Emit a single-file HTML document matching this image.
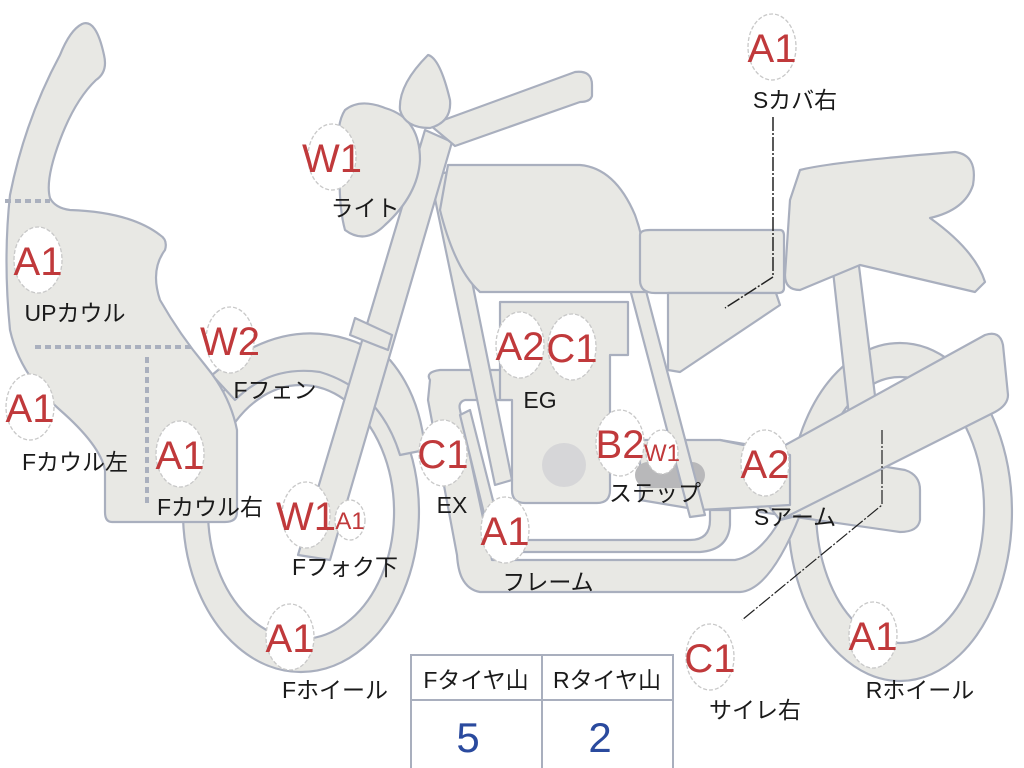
<!DOCTYPE html>
<html><head><meta charset="utf-8"><style>
html,body{margin:0;padding:0;background:#fff;}
svg{display:block;}
.s{fill:#e8e8e4;stroke:#a9afbe;stroke-width:2.2;stroke-linejoin:round;}
.c{fill:#fff;stroke:#c8c8c8;stroke-width:1.3;stroke-dasharray:4 2;}
.r{fill:#c0393b;font-family:"Liberation Sans",sans-serif;font-size:40px;}
.rs{fill:#c0393b;font-family:"Liberation Sans",sans-serif;font-size:24px;}
.k{fill:#1a1a1a;font-family:"Liberation Sans","Noto Sans CJK JP",sans-serif;font-size:23px;}
</style></head><body>
<svg width="1024" height="768" viewBox="0 0 1024 768" xmlns="http://www.w3.org/2000/svg">
<!-- rear wheel -->
<path class="s" fill-rule="evenodd" d="M900,343 A112,169 0 1 1 899.9,343 Z M900,377 A84,133 0 1 0 900.1,377 Z"/>
<!-- front wheel -->
<path class="s" fill-rule="evenodd" d="M301,352 A118,160 0 1 1 300.9,352 Z M301,385 A93,127 0 1 0 301.1,385 Z"/>
<!-- front fender -->
<path class="s" d="M212,375 Q300,300 390,360 Q420,395 425,450 L400,455 Q380,390 320,372 Q270,365 235,400 Z"/>
<!-- rear shock -->
<path class="s" d="M832,262 L858,258 L878,420 L850,425 Z"/>
<!-- swingarm lower -->
<path class="s" d="M720,440 L905,470 Q920,475 920,490 L920,520 Q918,532 900,532 L760,512 Z"/>
<!-- swingarm big -->
<path class="s" d="M740,470 L985,335 Q1000,330 1003,345 L1008,395 Q1008,405 995,412 L780,520 Z"/>
<!-- step bar -->
<path class="s" d="M640,440 L720,440 L790,455 L790,505 L700,510 L640,500 Z"/>
<!-- exhaust outer -->
<path class="s" d="M430,380 Q425,372 440,370 L510,370 L510,400 L465,400 Q458,402 460,410 L492,560 L735,560 Q760,555 780,520 L800,515 Q770,590 740,592 L480,592 Q468,590 462,578 Q458,570 457,555 L428,400 Z"/>
<!-- exhaust inner -->
<path class="s" d="M470,410 L500,528 Q503,540 515,540 L690,540 Q710,540 710,520 L710,510 L730,510 L730,525 Q728,550 700,552 L512,552 Q495,552 490,538 L460,415 Z"/>
<!-- engine -->
<path class="s" d="M500,302 L628,302 L628,355 L610,355 L610,490 Q610,503 597,503 L525,503 Q512,503 512,490 L512,400 L500,400 Z"/>
<circle cx="564" cy="465" r="22" fill="#d6d6d8"/>
<rect x="635" y="462" width="70" height="26" rx="13" fill="#b8b8ba"/>
<!-- frame tubes -->
<path class="s" d="M430,175 L450,172 L512,480 L495,485 Z"/>
<path class="s" d="M625,270 L640,268 L705,515 L690,517 Z"/>
<!-- tank -->
<path class="s" d="M448,165 L580,165 Q615,168 635,215 Q648,250 645,292 L480,292 Q455,270 440,210 Z"/>
<!-- rear frame -->
<path class="s" d="M640,235 Q640,230 650,230 L780,230 Q784,230 784,236 L784,288 Q784,293 778,293 L655,293 Q640,293 640,280 Z"/>
<!-- side cover -->
<path class="s" d="M668,293 L776,293 L780,305 L680,372 L668,370 Z"/>
<!-- seat -->
<path class="s" d="M800,170 Q830,162 955,152 Q978,155 973,185 Q965,210 930,218 Q975,250 985,282 L975,292 L860,265 L800,290 Q785,290 785,275 L790,200 Z"/>
<!-- fork -->
<path class="s" d="M425,130 L452,142 L330,560 L298,555 Z"/>
<path class="s" d="M355,318 L392,335 L388,350 L350,335 Z"/>
<!-- headlight -->
<path class="s" d="M345,110 Q360,98 385,108 Q420,118 420,160 Q418,195 385,225 Q365,245 345,230 Q338,205 340,160 Q335,125 345,110 Z"/>
<!-- handlebar -->
<path class="s" d="M430,125 L575,72 Q592,70 592,85 L592,96 Q590,102 580,102 L455,146 Z"/>
<!-- mirror -->
<path class="s" d="M428,55 Q440,58 450,100 Q452,122 430,128 Q405,128 400,110 Q398,85 428,55 Z"/>
<!-- fairing -->
<path class="s" d="M82,24 Q96,18 104,55 Q108,72 96,80 Q75,100 60,140 Q45,180 50,198 Q55,208 70,210 Q130,212 160,235 Q168,240 165,250 Q150,270 160,300 Q180,335 205,365 Q230,395 237,430 L237,512 Q237,522 225,522 L112,522 Q105,522 105,512 L105,470 Q100,445 60,410 Q20,375 10,330 Q3,260 10,195 Q25,120 60,55 Q70,30 82,24 Z"/>
<line x1="5" y1="201" x2="50" y2="201" stroke="#aab0be" stroke-width="4" stroke-dasharray="6 4"/>
<line x1="35" y1="347" x2="192" y2="347" stroke="#aab0be" stroke-width="4" stroke-dasharray="6 4"/>
<line x1="147" y1="357" x2="147" y2="505" stroke="#aab0be" stroke-width="4" stroke-dasharray="6 4"/>
<!-- leader lines -->
<path d="M773,117 L773,277 L725,308" fill="none" stroke="#222" stroke-width="1.5" stroke-dasharray="14 2 2 2"/>
<path d="M882,430 L882,505 L742,620" fill="none" stroke="#222" stroke-width="1.2" stroke-dasharray="14 2 2 2"/>
<!-- badges -->
<g>
<ellipse class="c" cx="772" cy="47" rx="24" ry="33"/><text class="r" x="772" y="62" text-anchor="middle">A1</text>
<ellipse class="c" cx="332" cy="157" rx="24" ry="33"/><text class="r" x="332" y="172" text-anchor="middle">W1</text>
<ellipse class="c" cx="38" cy="260" rx="24" ry="33"/><text class="r" x="38" y="275" text-anchor="middle">A1</text>
<ellipse class="c" cx="230" cy="340" rx="24" ry="33"/><text class="r" x="230" y="355" text-anchor="middle">W2</text>
<ellipse class="c" cx="30" cy="407" rx="24" ry="33"/><text class="r" x="30" y="422" text-anchor="middle">A1</text>
<ellipse class="c" cx="180" cy="454" rx="24" ry="33"/><text class="r" x="180" y="469" text-anchor="middle">A1</text>
<ellipse class="c" cx="306" cy="515" rx="24" ry="33"/><text class="r" x="306" y="530" text-anchor="middle">W1</text>
<ellipse class="c" cx="350" cy="520" rx="15" ry="20"/><text class="rs" x="350" y="529" text-anchor="middle">A1</text>
<ellipse class="c" cx="290" cy="637" rx="24" ry="33"/><text class="r" x="290" y="652" text-anchor="middle">A1</text>
<ellipse class="c" cx="520" cy="345" rx="24" ry="33"/><text class="r" x="520" y="360" text-anchor="middle">A2</text>
<ellipse class="c" cx="572" cy="347" rx="24" ry="33"/><text class="r" x="572" y="362" text-anchor="middle">C1</text>
<ellipse class="c" cx="443" cy="453" rx="24" ry="33"/><text class="r" x="443" y="468" text-anchor="middle">C1</text>
<ellipse class="c" cx="620" cy="443" rx="24" ry="33"/><text class="r" x="620" y="458" text-anchor="middle">B2</text>
<ellipse class="c" cx="662" cy="452" rx="16" ry="22"/><text class="rs" x="662" y="461" text-anchor="middle">W1</text>
<ellipse class="c" cx="505" cy="530" rx="24" ry="33"/><text class="r" x="505" y="545" text-anchor="middle">A1</text>
<ellipse class="c" cx="765" cy="463" rx="24" ry="33"/><text class="r" x="765" y="478" text-anchor="middle">A2</text>
<ellipse class="c" cx="710" cy="657" rx="24" ry="33"/><text class="r" x="710" y="672" text-anchor="middle">C1</text>
<ellipse class="c" cx="873" cy="635" rx="24" ry="33"/><text class="r" x="873" y="650" text-anchor="middle">A1</text>
</g>
<!-- labels -->
<text class="k" x="795" y="108" text-anchor="middle">Sカバ右</text>
<text class="k" x="365" y="216" text-anchor="middle">ライト</text>
<text class="k" x="75" y="321" text-anchor="middle">UPカウル</text>
<text class="k" x="275" y="398" text-anchor="middle">Fフェン</text>
<text class="k" x="75" y="470" text-anchor="middle">Fカウル左</text>
<text class="k" x="210" y="515" text-anchor="middle">Fカウル右</text>
<text class="k" x="345" y="575" text-anchor="middle">Fフォク下</text>
<text class="k" x="335" y="698" text-anchor="middle">Fホイール</text>
<text class="k" x="540" y="408" text-anchor="middle">EG</text>
<text class="k" x="452" y="513" text-anchor="middle">EX</text>
<text class="k" x="655" y="501" text-anchor="middle">ステップ</text>
<text class="k" x="548" y="590" text-anchor="middle">フレーム</text>
<text class="k" x="795" y="525" text-anchor="middle">Sアーム</text>
<text class="k" x="755" y="718" text-anchor="middle">サイレ右</text>
<text class="k" x="920" y="698" text-anchor="middle">Rホイール</text>
<!-- table -->
<rect x="411" y="655" width="262" height="115" fill="#fff" stroke="#a9afbe" stroke-width="2"/>
<line x1="411" y1="700" x2="673" y2="700" stroke="#a9afbe" stroke-width="2"/>
<line x1="542" y1="655" x2="542" y2="768" stroke="#a9afbe" stroke-width="2"/>
<text class="k" x="476" y="688" text-anchor="middle">Fタイヤ山</text>
<text class="k" x="607" y="688" text-anchor="middle">Rタイヤ山</text>
<text x="468" y="752" text-anchor="middle" font-family="Liberation Sans,sans-serif" font-size="42" fill="#2a4a9e">5</text>
<text x="600" y="752" text-anchor="middle" font-family="Liberation Sans,sans-serif" font-size="42" fill="#2a4a9e">2</text>
</svg>
</body></html>
